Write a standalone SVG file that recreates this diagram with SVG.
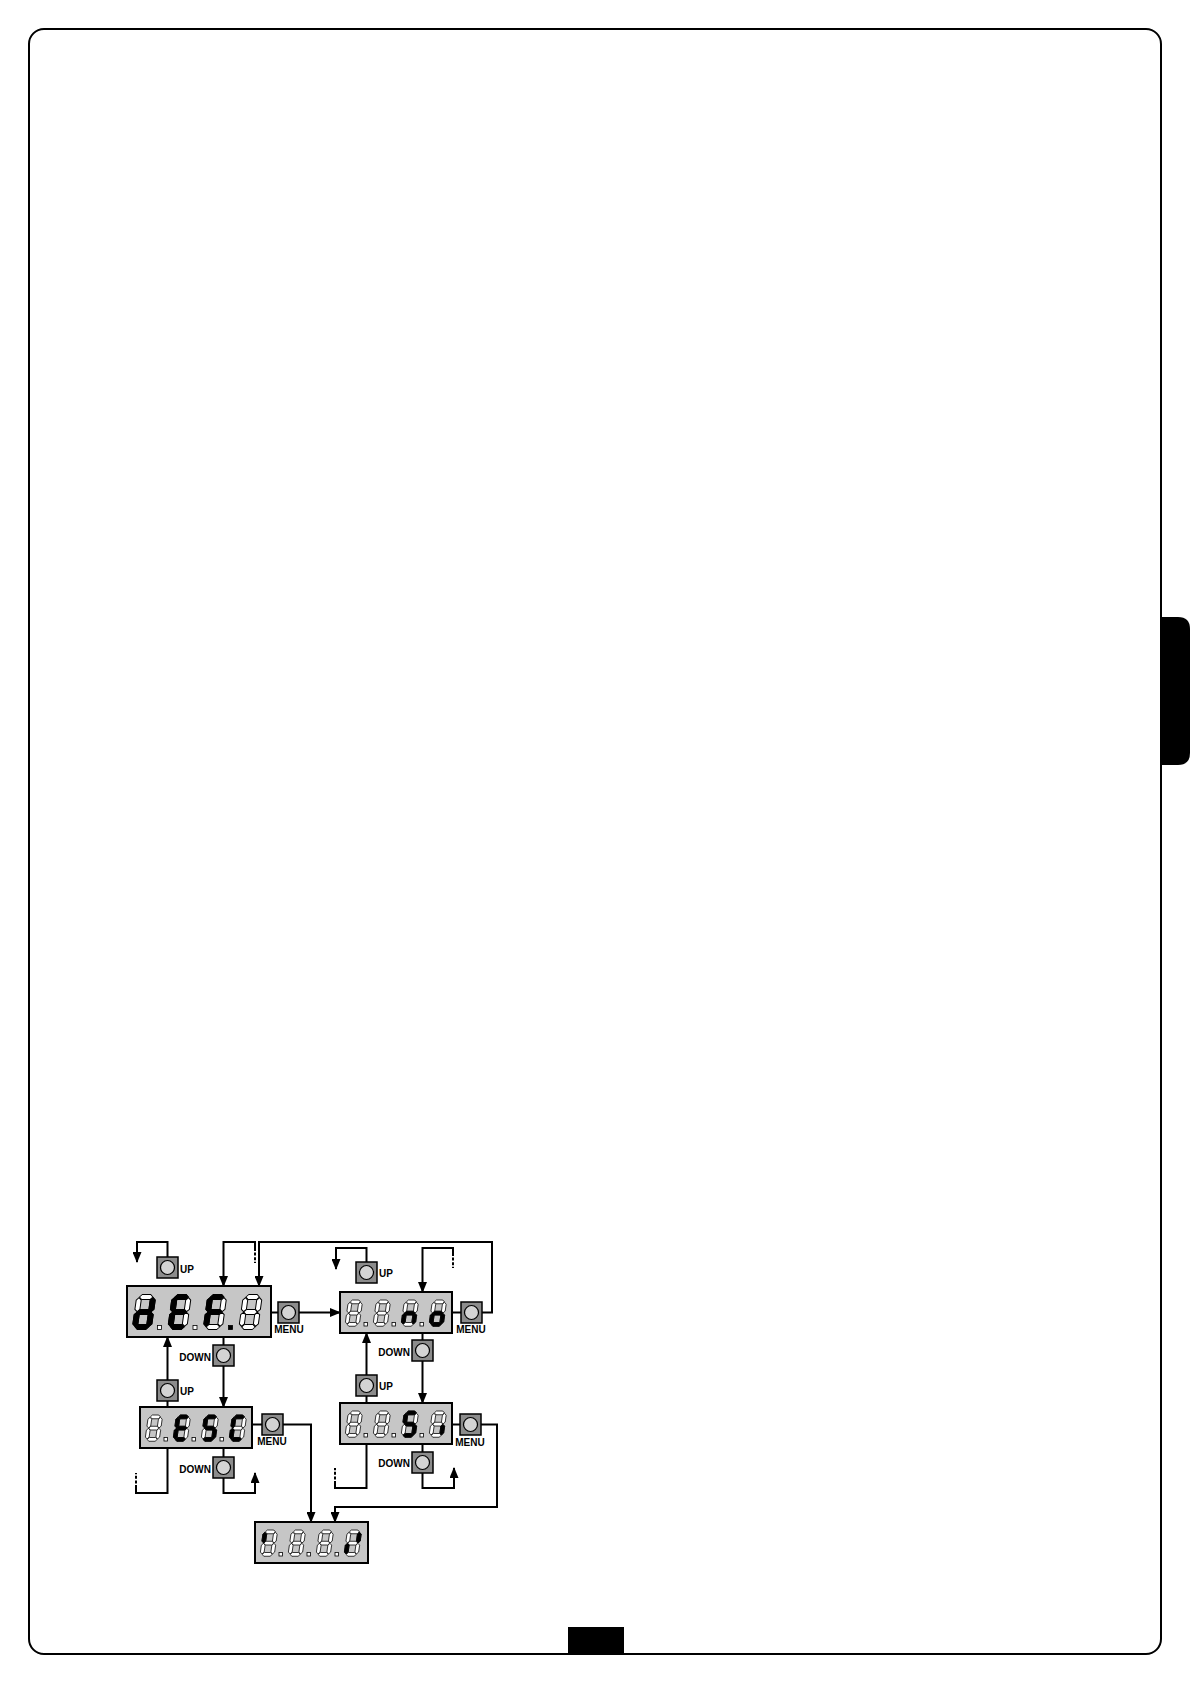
<svg xmlns="http://www.w3.org/2000/svg" xmlns:xlink="http://www.w3.org/1999/xlink" width="1191" height="1684" viewBox="0 0 1191 1684">
<style>
.page{fill:none;stroke:#000;stroke-width:2}
.disp{fill:#c6c6c6;stroke:#000;stroke-width:2}
.dig{stroke:#000;stroke-width:1;stroke-linejoin:round}
.on{fill:#000}
.dpoff{fill:#fff;stroke:#000;stroke-width:0.8}
.dpon{fill:#000;stroke:#000;stroke-width:0.8}
.lbl{font-family:"Liberation Sans",Arial,sans-serif;font-weight:bold;font-size:10px;fill:#000}
.con{fill:none;stroke:#000;stroke-width:2}
.dash{fill:none;stroke:#000;stroke-width:2;stroke-dasharray:3 1.6}
</style>
<defs>
<marker id="ah" viewBox="0 0 11 9" refX="10" refY="4.5" markerWidth="11" markerHeight="9" orient="auto" markerUnits="userSpaceOnUse"><path d="M0,0 L11,4.5 L0,9 Z" fill="#000"/></marker>
<path id="sa" d="M2.8,2.5 L5.3,0 H13.7 L16.2,2.5 L13.7,5 H5.3 Z"/>
<path id="sg" d="M2.8,17.5 L5.3,15 H13.7 L16.2,17.5 L13.7,20 H5.3 Z"/>
<path id="sd" d="M2.8,32.5 L5.3,30 H13.7 L16.2,32.5 L13.7,35 H5.3 Z"/>
<path id="sf" d="M2.5,3.1 L5,5.6 V14.8 L2.5,17.2 L0,14.8 V5.6 Z"/>
<path id="se" d="M2.5,17.8 L5,20.2 V29.4 L2.5,31.9 L0,29.4 V20.2 Z"/>
<path id="sb" d="M16.5,3.1 L19,5.6 V14.8 L16.5,17.2 L14,14.8 V5.6 Z"/>
<path id="sc" d="M16.5,17.8 L19,20.2 V29.4 L16.5,31.9 L14,29.4 V20.2 Z"/>
<g id="d8" fill="#fff">
<use href="#sa"/><use href="#sb"/><use href="#sc"/><use href="#sd"/><use href="#se"/><use href="#sf"/><use href="#sg"/>
</g>
<g id="btn">
<rect x="0" y="0" width="21" height="21" fill="#8c8c8c" stroke="#000" stroke-width="1.5"/>
<circle cx="10.5" cy="10.5" r="7" fill="#d4d4d4" stroke="#000" stroke-width="1.2"/>
</g>
</defs>
<rect width="1191" height="1684" fill="#fff"/>
<!-- page frame -->
<rect class="page" x="29" y="29" width="1132" height="1625" rx="15" ry="15"/>
<path d="M1161,617 H1178 Q1190,617 1190,629 V753 Q1190,765 1178,765 H1161 Z" fill="#000"/>
<rect x="568" y="1627" width="56" height="27" fill="#000"/>

<!-- connectors -->
<g id="connectors">
<path class="con" d="M167.5,1257 V1242 H137 V1262" marker-end="url(#ah)"/>
<path class="con" d="M255,1248 V1242 H223.5 V1286" marker-end="url(#ah)"/>
<path class="dash" d="M255,1248 V1263"/>
<path class="con" d="M482,1312.5 H492 V1242 H259 V1286" marker-end="url(#ah)"/>
<path class="con" d="M271,1312.5 H278"/>
<path class="con" d="M299,1312.5 H340" marker-end="url(#ah)"/>
<path class="con" d="M366.5,1262 V1248 H336 V1269" marker-end="url(#ah)"/>
<path class="con" d="M453,1253 V1248 H422.5 V1292" marker-end="url(#ah)"/>
<path class="dash" d="M453,1253 V1268"/>
<path class="con" d="M452,1312.5 H461"/>
<path class="con" d="M223.5,1337 V1345"/>
<path class="con" d="M223.5,1366 V1407" marker-end="url(#ah)"/>
<path class="con" d="M167.5,1407 V1401"/>
<path class="con" d="M167.5,1380 V1337" marker-end="url(#ah)"/>
<path class="con" d="M252,1424.5 H262"/>
<path class="con" d="M283,1424.5 H311 V1522" marker-end="url(#ah)"/>
<path class="con" d="M167.5,1448 V1493 H136 V1488"/>
<path class="dash" d="M136,1488 V1473"/>
<path class="con" d="M223.5,1448 V1457"/>
<path class="con" d="M223.5,1478 V1493 H255 V1473" marker-end="url(#ah)"/>
<path class="con" d="M422.5,1333 V1340"/>
<path class="con" d="M422.5,1361 V1403" marker-end="url(#ah)"/>
<path class="con" d="M366.5,1403 V1396"/>
<path class="con" d="M366.5,1375 V1333" marker-end="url(#ah)"/>
<path class="con" d="M451,1424.5 H460"/>
<path class="con" d="M481,1424.5 H497 V1507 H335 V1522" marker-end="url(#ah)"/>
<path class="con" d="M366.5,1444 V1488 H335 V1484"/>
<path class="dash" d="M335,1484 V1468"/>
<path class="con" d="M422.5,1444 V1452"/>
<path class="con" d="M422.5,1473 V1488 H454 V1468" marker-end="url(#ah)"/>
</g>

<!-- display dEF -->
<g id="disp-def">
<rect class="disp" x="127" y="1286" width="144" height="51"/>
<g class="dig">
<g transform="translate(137,1294.5) skewX(-8)"><use href="#d8"/><use href="#sb" class="on"/><use href="#sc" class="on"/><use href="#sd" class="on"/><use href="#se" class="on"/><use href="#sg" class="on"/></g>
<g transform="translate(172.5,1294.5) skewX(-8)"><use href="#d8"/><use href="#sa" class="on"/><use href="#sd" class="on"/><use href="#se" class="on"/><use href="#sf" class="on"/><use href="#sg" class="on"/></g>
<g transform="translate(208,1294.5) skewX(-8)"><use href="#d8"/><use href="#sa" class="on"/><use href="#se" class="on"/><use href="#sf" class="on"/><use href="#sg" class="on"/></g>
<g transform="translate(243.5,1294.5) skewX(-8)"><use href="#d8"/></g>
</g>
<rect class="dpoff" x="157.5" y="1325.5" width="4" height="4"/>
<rect class="dpoff" x="193" y="1325.5" width="4" height="4"/>
<rect class="dpon" x="228.5" y="1325.5" width="4" height="4"/>
</g>

<!-- display no -->
<g id="disp-no">
<rect class="disp" x="340" y="1292" width="112" height="41"/>
<g class="dig">
<g transform="translate(348.5,1300) scale(0.75) skewX(-8)"><use href="#d8"/></g>
<g transform="translate(376.5,1300) scale(0.75) skewX(-8)"><use href="#d8"/></g>
<g transform="translate(404.5,1300) scale(0.75) skewX(-8)"><use href="#d8"/><use href="#sc" class="on"/><use href="#se" class="on"/><use href="#sg" class="on"/></g>
<g transform="translate(432.5,1300) scale(0.75) skewX(-8)"><use href="#d8"/><use href="#sc" class="on"/><use href="#sd" class="on"/><use href="#se" class="on"/><use href="#sg" class="on"/></g>
</g>
<rect class="dpoff" x="364" y="1322.5" width="3.5" height="3.5"/>
<rect class="dpoff" x="392" y="1322.5" width="3.5" height="3.5"/>
<rect class="dpoff" x="420" y="1322.5" width="3.5" height="3.5"/>
</g>

<!-- display ESC -->
<g id="disp-esc">
<rect class="disp" x="140" y="1407" width="112" height="41"/>
<g class="dig">
<g transform="translate(148.5,1415) scale(0.75) skewX(-8)"><use href="#d8"/></g>
<g transform="translate(176.5,1415) scale(0.75) skewX(-8)"><use href="#d8"/><use href="#sa" class="on"/><use href="#sd" class="on"/><use href="#se" class="on"/><use href="#sf" class="on"/><use href="#sg" class="on"/></g>
<g transform="translate(204.5,1415) scale(0.75) skewX(-8)"><use href="#d8"/><use href="#sa" class="on"/><use href="#sc" class="on"/><use href="#sd" class="on"/><use href="#sf" class="on"/><use href="#sg" class="on"/></g>
<g transform="translate(232.5,1415) scale(0.75) skewX(-8)"><use href="#d8"/><use href="#sa" class="on"/><use href="#sd" class="on"/><use href="#se" class="on"/><use href="#sf" class="on"/></g>
</g>
<rect class="dpoff" x="164" y="1437.5" width="3.5" height="3.5"/>
<rect class="dpoff" x="192" y="1437.5" width="3.5" height="3.5"/>
<rect class="dpoff" x="220" y="1437.5" width="3.5" height="3.5"/>
</g>

<!-- display Si -->
<g id="disp-si">
<rect class="disp" x="340" y="1403" width="112" height="41"/>
<g class="dig">
<g transform="translate(348.5,1411) scale(0.75) skewX(-8)"><use href="#d8"/></g>
<g transform="translate(376.5,1411) scale(0.75) skewX(-8)"><use href="#d8"/></g>
<g transform="translate(404.5,1411) scale(0.75) skewX(-8)"><use href="#d8"/><use href="#sa" class="on"/><use href="#sc" class="on"/><use href="#sd" class="on"/><use href="#sf" class="on"/><use href="#sg" class="on"/></g>
<g transform="translate(432.5,1411) scale(0.75) skewX(-8)"><use href="#d8"/><use href="#sc" class="on"/></g>
</g>
<rect class="dpoff" x="364" y="1433.5" width="3.5" height="3.5"/>
<rect class="dpoff" x="392" y="1433.5" width="3.5" height="3.5"/>
<rect class="dpoff" x="420" y="1433.5" width="3.5" height="3.5"/>
</g>

<!-- display final -->
<g id="disp-final">
<rect class="disp" x="255" y="1522" width="113" height="41"/>
<g class="dig">
<g transform="translate(263.5,1530) scale(0.75) skewX(-8)"><use href="#d8"/><use href="#sf" class="on"/></g>
<g transform="translate(291.5,1530) scale(0.75) skewX(-8)"><use href="#d8"/></g>
<g transform="translate(319.5,1530) scale(0.75) skewX(-8)"><use href="#d8"/></g>
<g transform="translate(347.5,1530) scale(0.75) skewX(-8)"><use href="#d8"/><use href="#sb" class="on"/><use href="#se" class="on"/></g>
</g>
<rect class="dpoff" x="279" y="1552.5" width="3.5" height="3.5"/>
<rect class="dpoff" x="307" y="1552.5" width="3.5" height="3.5"/>
<rect class="dpoff" x="335" y="1552.5" width="3.5" height="3.5"/>
</g>

<!-- buttons -->
<g id="btn-def-up"><use href="#btn" x="157" y="1257"/><text class="lbl" x="180" y="1273">UP</text></g>
<g id="btn-def-menu"><use href="#btn" x="278" y="1302"/><text class="lbl" x="289" y="1333" text-anchor="middle">MENU</text></g>
<g id="btn-def-down"><use href="#btn" x="213" y="1345"/><text class="lbl" x="211" y="1361" text-anchor="end">DOWN</text></g>
<g id="btn-no-up"><use href="#btn" x="356" y="1262"/><text class="lbl" x="379" y="1277">UP</text></g>
<g id="btn-no-menu"><use href="#btn" x="461" y="1302"/><text class="lbl" x="471" y="1333" text-anchor="middle">MENU</text></g>
<g id="btn-no-down"><use href="#btn" x="412" y="1340"/><text class="lbl" x="410" y="1356" text-anchor="end">DOWN</text></g>
<g id="btn-esc-up"><use href="#btn" x="157" y="1380"/><text class="lbl" x="180" y="1395">UP</text></g>
<g id="btn-esc-menu"><use href="#btn" x="262" y="1414"/><text class="lbl" x="272" y="1445" text-anchor="middle">MENU</text></g>
<g id="btn-esc-down"><use href="#btn" x="213" y="1457"/><text class="lbl" x="211" y="1473" text-anchor="end">DOWN</text></g>
<g id="btn-si-up"><use href="#btn" x="356" y="1375"/><text class="lbl" x="379" y="1390">UP</text></g>
<g id="btn-si-menu"><use href="#btn" x="460" y="1414"/><text class="lbl" x="470" y="1446" text-anchor="middle">MENU</text></g>
<g id="btn-si-down"><use href="#btn" x="412" y="1452"/><text class="lbl" x="410" y="1467" text-anchor="end">DOWN</text></g>
</svg>
